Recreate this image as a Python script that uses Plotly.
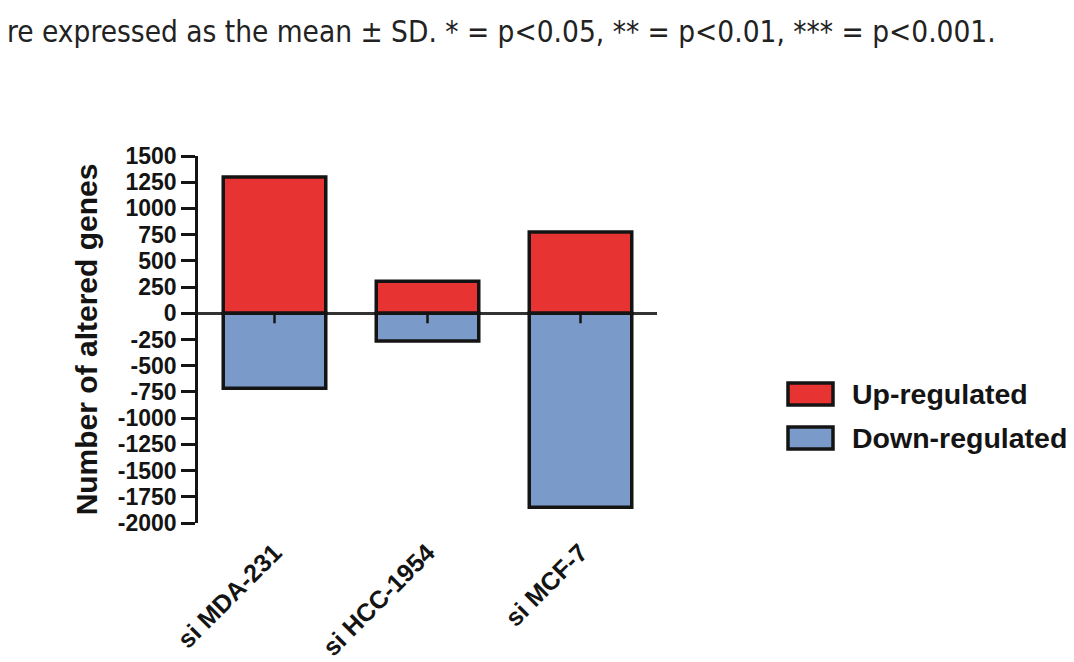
import plotly.graph_objects as go

categories = ["si MDA-231", "si HCC-1954", "si MCF-7"]
up_regulated = [1300, 305, 775]
down_regulated = [-715, -265, -1850]
series_names = ["Up-regulated", "Down-regulated"]
y_ticks = list(range(-2000, 1501, 250))
caption = "re expressed as the mean \u00b1 SD. * = p<0.05, ** = p<0.01, *** = p<0.001."

RED = "#E83333"
BLUE = "#7A9BC9"
INK = "#141414"
FONT = "Liberation Sans, Arial, sans-serif"

# plot area geometry (figure pixels); the page adds an 8px body margin
L, T, PW, PH = 190, 148, 459, 367

fig = go.Figure()
fig.add_trace(go.Bar(x=categories, y=up_regulated, name=series_names[0],
                     marker=dict(color=RED, line=dict(color=INK, width=3.5)),
                     width=0.67, showlegend=False))
fig.add_trace(go.Bar(x=categories, y=down_regulated, name=series_names[1],
                     marker=dict(color=BLUE, line=dict(color=INK, width=3.5)),
                     width=0.67, showlegend=False))

# small category ticks hanging below the zero line
for c in categories:
    fig.add_shape(type="line", xref="x", yref="y", x0=c, x1=c,
                  ysizemode="pixel", yanchor=0, y0=0, y1=-10,
                  line=dict(color=INK, width=2.5), layer="above")

def px(xpix):
    return (xpix - 8 - L) / PW

def py(ypix):
    return (T + PH - (ypix - 8)) / PH

# custom legend (large swatches as in the reference)
legend_items = [(series_names[0], RED, 394), (series_names[1], BLUE, 438)]
for name, col, yc in legend_items:
    fig.add_shape(type="rect", xref="paper", yref="paper",
                  x0=px(788), x1=px(833), y0=py(yc + 11), y1=py(yc - 11),
                  fillcolor=col, line=dict(color=INK, width=3.5))
    fig.add_annotation(xref="paper", yref="paper", x=px(850), y=py(yc),
                       xanchor="left", yanchor="middle", showarrow=False,
                       text=name, font=dict(family=FONT, size=28.5, color=INK, weight=700))

# caption fragment at the top
fig.add_annotation(xref="paper", yref="paper", x=px(5), y=py(32),
                   xanchor="left", yanchor="middle", showarrow=False,
                   text=caption,
                   font=dict(family="Liberation Sans Narrow, DejaVu Sans Condensed, sans-serif",
                             size=29.5, color="#222"))

fig.update_layout(
    barmode="relative",
    width=1074, height=662,
    margin=dict(l=L, r=1074 - L - PW, t=T, b=662 - T - PH, autoexpand=False),
    plot_bgcolor="white", paper_bgcolor="white",
)
fig.update_yaxes(
    range=[-2000, 1500], tickvals=y_ticks, ticktext=[str(v) for v in y_ticks],
    showgrid=False, showline=True, linecolor=INK, linewidth=2.5,
    ticks="outside", ticklen=14, tickwidth=2.5, tickcolor=INK,
    zeroline=True, zerolinecolor="#333", zerolinewidth=2.5,
    tickfont=dict(family=FONT, size=23, color=INK, weight=700),
    automargin=False,
    title=dict(text="Number of altered genes", standoff=12,
               font=dict(family=FONT, size=30, color=INK, weight=700)),
)
fig.update_xaxes(
    range=[-0.5, 2.5], showgrid=False, showline=False, ticks="",
    tickangle=-45, ticklabelstandoff=9, automargin=False,
    tickfont=dict(family=FONT, size=25, color=INK, weight=700),
)

fig.write_html("out.html")
